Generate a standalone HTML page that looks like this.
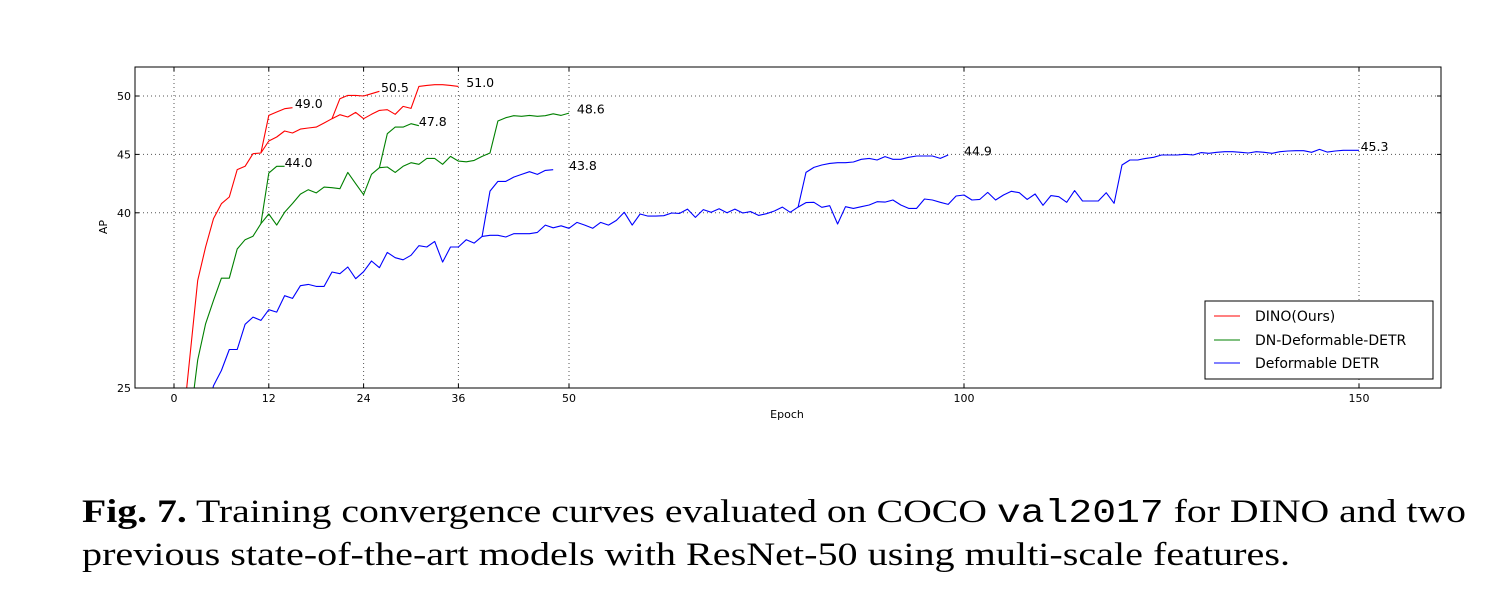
<!DOCTYPE html>
<html><head><meta charset="utf-8"><style>
html,body{margin:0;padding:0;background:#fff;}
svg{display:block;font-family:"DejaVu Sans","Liberation Sans",sans-serif;}
</style></head><body>
<svg id="chart" width="1496" height="606" viewBox="0 0 1496 606" xmlns="http://www.w3.org/2000/svg">
<g id="grid"></g>
<g id="series"></g>
<g id="axes"></g>
<g id="legend">
<rect x="1205" y="301" width="228" height="78" fill="#fff" stroke="#000" stroke-width="1"/>
<g><line x1="1214" y1="316" x2="1240" y2="316" stroke="#f00"/><text x="1255" y="321" font-size="14">DINO(Ours)</text></g>
<g><line x1="1214" y1="340" x2="1240" y2="340" stroke="#008000"/><text x="1255" y="345" font-size="14">DN-Deformable-DETR</text></g>
<g><line x1="1214" y1="363" x2="1240" y2="363" stroke="#00f"/><text x="1255" y="368" font-size="14">Deformable DETR</text></g>
</g>
<text x="787" y="418" font-size="11" text-anchor="middle">Epoch</text>
<text x="107" y="227" font-size="11" text-anchor="middle" transform="rotate(-90 107 227)">AP</text>
<g font-family="'Liberation Serif',serif" font-size="33">
<text x="82" y="522" textLength="1384" lengthAdjust="spacingAndGlyphs"><tspan font-weight="bold">Fig. 7.</tspan> Training convergence curves evaluated on COCO <tspan font-family="'Liberation Mono',monospace">val2017</tspan> for DINO and two</text>
<text x="82" y="565" textLength="1208" lengthAdjust="spacingAndGlyphs">previous state-of-the-art models with ResNet-50 using multi-scale features.</text>
</g>
</svg>
<script>
const xTicks=[0,12,24,36,50,100,150];
const yTicks=[25,40,45,50];
const redMainE=[1,3,4,5,6,7,8,9,10,11,12,13,14,15,16,17,18,19,20,21,22,23,24,25,26,27,28,29,30,31,32,33,34,35,36];
const redMainV=[21,34.2,37.07,39.5,40.78,41.35,43.7,43.98,45.06,45.12,46.15,46.49,47.0,46.83,47.17,47.26,47.34,47.69,48.06,48.4,48.2,48.6,48.06,48.43,48.77,48.83,48.43,49.11,48.94,50.82,50.91,50.97,50.97,50.91,50.82];
const red12E=[11,12,13,14,15];
const red12V=[45.12,48.34,48.63,48.91,49.0];
const red24E=[20,21,22,23,24,25,26];
const red24V=[48.06,49.77,50.05,50.05,50.0,50.2,50.4];
const greenMainE=[2,3,4,5,6,7,8,9,10,11,12,13,14,15,16,17,18,19,20,21,22,23,24,25,26,27,28,29,30,31,32,33,34,35,36,37,38,39,40,41,42,43,44,45,46,47,48,49,50];
const greenMainV=[22,27.4,30.5,32.5,34.4,34.4,36.9,37.7,38.0,39.07,39.9,38.95,40.04,40.8,41.6,41.98,41.7,42.2,42.15,42.06,43.46,42.49,41.55,43.3,43.86,43.92,43.46,43.98,44.29,44.15,44.66,44.66,44.15,44.83,44.43,44.37,44.49,44.83,45.12,47.86,48.14,48.31,48.26,48.34,48.26,48.31,48.48,48.34,48.54];
const green12E=[11,12,13,14];
const green12V=[39.07,43.4,43.98,43.98];
const green24E=[26,27,28,29,30,31];
const green24V=[43.86,46.77,47.34,47.34,47.63,47.46];
const blueMainE=[];for(let e=4;e<=150;e++)blueMainE.push(e);
const blueMainV=[22.5,25.2,26.5,28.3,28.3,30.45,31.07,30.79,31.7,31.5,32.9,32.67,33.76,33.87,33.7,33.7,34.93,34.79,35.36,34.36,34.96,35.87,35.3,36.61,36.16,35.98,36.36,37.18,37.07,37.55,35.78,37.07,37.07,37.7,37.41,37.98,38.07,38.07,37.93,38.21,38.21,38.21,38.32,38.95,38.72,38.89,38.67,39.18,38.95,38.67,39.18,38.95,39.35,40.04,38.95,39.9,39.72,39.72,39.75,39.98,39.95,40.32,39.61,40.27,40.04,40.35,40.01,40.32,39.98,40.1,39.78,39.92,40.15,40.49,40.04,40.49,
40.87,40.9,40.47,40.61,39.04,40.52,40.38,40.52,40.67,40.95,40.92,41.1,40.67,40.38,40.38,41.18,41.1,40.9,40.72,41.44,41.52,41.1,41.15,41.75,41.1,41.52,41.84,41.72,41.15,41.61,40.64,41.47,41.38,40.9,41.9,41.01,41.01,41.01,41.72,40.81,
44.09,44.52,44.52,44.66,44.75,44.95,44.95,44.95,45.01,44.95,45.15,45.09,45.18,45.23,45.23,45.18,45.12,45.23,45.18,45.09,45.23,45.29,45.32,45.32,45.18,45.43,45.2,45.29,45.35,45.35,45.35];
const blue50E=[39,40,41,42,43,44,45,46,47,48];
const blue50V=[37.98,41.86,42.69,42.69,43.06,43.29,43.52,43.29,43.63,43.69];
const blue100E=[79,80,81,82,83,84,85,86,87,88,89,90,91,92,93,94,95,96,97,98];
const blue100V=[40.49,43.46,43.89,44.09,44.23,44.29,44.29,44.35,44.58,44.66,44.52,44.81,44.58,44.58,44.75,44.86,44.86,44.86,44.66,44.95];
const endLabels=["49.0","44.0","50.5","51.0","47.8","48.6","43.8","44.9","45.3"];
const labelE=[15.3,14,26.2,37,31,51,50,100,150.2];

const L=135,R=1441,T=67,B=388;
const X=e=>174+(e-0)*7.9;
const Y=v=>B-(v-25)*((B-96)/25);
const NS="http://www.w3.org/2000/svg";
function mk(tag,parent,attrs){const el=document.createElementNS(NS,tag);for(const k in attrs)el.setAttribute(k,attrs[k]);parent.appendChild(el);return el;}
const grid=document.getElementById('grid'),axes=document.getElementById('axes'),ser=document.getElementById('series');
xTicks.forEach(t=>{
  const g=mk('line',grid,{x1:X(t),x2:X(t),y1:T,y2:B,stroke:'#555','stroke-dasharray':'1,3','stroke-width':1});
  
  
  mk('line',axes,{x1:X(t),x2:X(t),y1:B,y2:B-4,stroke:'#000'});
  mk('line',axes,{x1:X(t),x2:X(t),y1:T,y2:T+4,stroke:'#000'});
  const tx=mk('text',axes,{x:X(t),y:B+14,'font-size':11,'text-anchor':'middle'});tx.textContent=t;
  
  
});
yTicks.forEach(t=>{
  const g=mk('line',grid,{x1:L,x2:R,y1:Y(t),y2:Y(t),stroke:'#555','stroke-dasharray':'1,3','stroke-width':1});
  
  
  mk('line',axes,{x1:L,x2:L+4,y1:Y(t),y2:Y(t),stroke:'#000'});
  mk('line',axes,{x1:R,x2:R-4,y1:Y(t),y2:Y(t),stroke:'#000'});
  const tx=mk('text',axes,{x:L-4,y:Y(t)+4,'font-size':11,'text-anchor':'end'});tx.textContent=t;
  
  
});
const frame=mk('rect',axes,{x:L,y:T,width:R-L,height:B-T,fill:'none',stroke:'#000','stroke-width':1});


mk('clipPath',document.getElementById('chart'),{id:'clip'}).appendChild(document.createElementNS(NS,'rect'));
const cr=document.querySelector('#clip rect');cr.setAttribute('x',L);cr.setAttribute('y',T);cr.setAttribute('width',R-L);cr.setAttribute('height',B-T);
ser.setAttribute('clip-path','url(#clip)');
const lines=[
 [redMainE,redMainV,'#f00','dino-36-epoch',3],[red12E,red12V,'#f00','dino-12-epoch',0],[red24E,red24V,'#f00','dino-24-epoch',2],
 [greenMainE,greenMainV,'#008000','dn-detr-50-epoch',5],[green12E,green12V,'#008000','dn-detr-12-epoch',1],[green24E,green24V,'#008000','dn-detr-30-epoch',4],
 [blueMainE,blueMainV,'#00f','deformable-detr-150-epoch',8],[blue50E,blue50V,'#00f','deformable-detr-50-epoch',6],[blue100E,blue100V,'#00f','deformable-detr-100-epoch',7]
];
lines.forEach(([E,V,c,n,li])=>{
  const p=mk('polyline',ser,{points:E.map((e,i)=>X(e).toFixed(1)+','+Y(V[i]).toFixed(1)).join(' '),fill:'none',stroke:c,'stroke-width':1.1,'stroke-linejoin':'round'});
  
  
  const lv=V[V.length-1];
  const t=mk('text',axes,{x:X(labelE[li]),y:Y(lv)+0.5,'font-size':12.5});t.textContent=endLabels[li];
  
  
});
</script>
</body></html>
